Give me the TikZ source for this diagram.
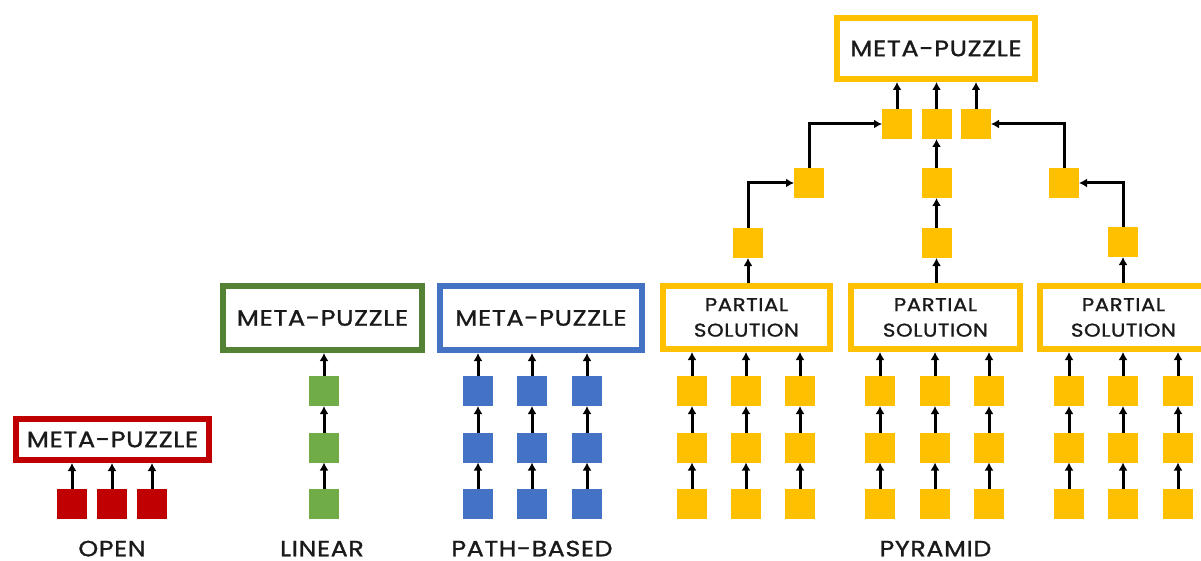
\documentclass[tikz,border=0pt]{standalone}
\usepackage{fontspec}
\setmainfont{Poppins}[FakeStretch=1.15, LetterSpace=3, FakeBold=1.2]
\usetikzlibrary{arrows.meta}
\definecolor{cred}{HTML}{C00000}
\definecolor{cgreen}{HTML}{70AD47}
\definecolor{cgreendark}{HTML}{548235}
\definecolor{cblue}{HTML}{4472C4}
\definecolor{cyellow}{HTML}{FFC000}
\definecolor{ink}{HTML}{1A1A1A}
\tikzset{
  sq/.style={fill=#1, minimum size=30pt, inner sep=0pt, outer sep=0pt},
  mbox/.style={draw=#1, line width=6pt, fill=white, inner sep=0pt, align=center,
    text=ink, font=\fontsize{22.3}{26}\selectfont},
  link/.style={draw=black, line width=3pt, -{Latex[length=8pt,width=9pt]}},
  lbl/.style={text=ink, font=\fontsize{22}{24}\selectfont, inner sep=0pt,
    text height=15.5pt, text depth=0pt}
}
\begin{document}
\begin{tikzpicture}[x=1pt,y=-1pt]
\useasboundingbox (0,0) rectangle (1201,561);
\clip (0,0) rectangle (1201,561);

% ---------- open ----------
\node[mbox=cred, minimum width=193pt, minimum height=41pt] (open) at (112.5,439.5) {META-PUZZLE};
\foreach \i/\x in {1/72,2/112,3/152} {
  \node[sq=cred] (o\i) at (\x,503.5) {};
  \draw[link] (o\i.north) -- (o\i.north |- open.south);
}
\node[lbl] (openlbl) at (112,548.5) {OPEN};

% ---------- linear ----------
\node[mbox=cgreendark, minimum width=199pt, minimum height=64pt] (lin) at (322.5,318) {META-PUZZLE};
\foreach \r/\y in {1/391,2/447.5,3/504}
  \node[sq=cgreen] (l\r) at (324,\y) {};
\draw[link] (l3.north) -- (l2.south);
\draw[link] (l2.north) -- (l1.south);
\draw[link] (l1.north) -- (l1.north |- lin.south);
\node[lbl] (linlbl) at (322,548.5) {LINEAR};

% ---------- path-based ----------
\node[mbox=cblue, minimum width=202pt, minimum height=64pt] (path) at (541,318) {META-PUZZLE};
\foreach \c/\x in {1/478,2/532,3/587} {
  \foreach \r/\y in {1/391,2/447.5,3/504}
    \node[sq=cblue] (b\c\r) at (\x,\y) {};
  \draw[link] (b\c3.north) -- (b\c2.south);
  \draw[link] (b\c2.north) -- (b\c1.south);
  \draw[link] (b\c1.north) -- (b\c1.north |- path.south);
}
\node[lbl] (pathlbl) at (532,548.5) {PATH-BASED};

% ---------- pyramid ----------
\node[mbox=cyellow, minimum width=198pt, minimum height=61pt] (top) at (936,48.5) {META-PUZZLE};
\foreach \g/\bx/\bw/\xa/\xb/\xc in {a/746.5/167/692/746/800, b/935.5/169/880/935/989, c/1123.5/167/1069/1123/1178} {
  \node[mbox=cyellow, minimum width=\bw pt, minimum height=63pt,
        font=\fontsize{18.5}{25.5}\selectfont] (p\g) at (\bx,317.5) {PARTIAL\\SOLUTION};
  \foreach \c/\x in {1/\xa,2/\xb,3/\xc} {
    \foreach \r/\y in {1/391,2/447.5,3/504}
      \node[sq=cyellow] (y\g\c\r) at (\x,\y) {};
    \draw[link] (y\g\c3.north) -- (y\g\c2.south);
    \draw[link] (y\g\c2.north) -- (y\g\c1.south);
    \draw[link] (y\g\c1.north) -- (y\g\c1.north |- p\g.south);
  }
}
% upper levels of the pyramid
\node[sq=cyellow] (n1) at (748,243) {};
\node[sq=cyellow] (n2) at (936.5,243) {};
\node[sq=cyellow] (n3) at (1123,242) {};
\node[sq=cyellow] (m1) at (809,183) {};
\node[sq=cyellow] (m2) at (936.5,183) {};
\node[sq=cyellow] (m3) at (1064,183) {};
\node[sq=cyellow] (t1) at (897,124) {};
\node[sq=cyellow] (t2) at (936.5,124) {};
\node[sq=cyellow] (t3) at (976,124) {};

\draw[link] (n1.south |- pa.north) -- (n1.south);
\draw[link] (n2.south |- pb.north) -- (n2.south);
\draw[link] (n3.south |- pc.north) -- (n3.south);
\draw[link] (n1.north) |- (m1.west);
\draw[link] (n2.north) -- (m2.south);
\draw[link] (n3.north) |- (m3.east);
\draw[link] (m1.north) |- (t1.west);
\draw[link] (m2.north) -- (t2.south);
\draw[link] (m3.north) |- (t3.east);
\foreach \i in {1,2,3}
  \draw[link] (t\i.north) -- (t\i.north |- top.south);
\node[lbl] (pyrlbl) at (935.5,548.5) {PYRAMID};
\end{tikzpicture}
\end{document}
